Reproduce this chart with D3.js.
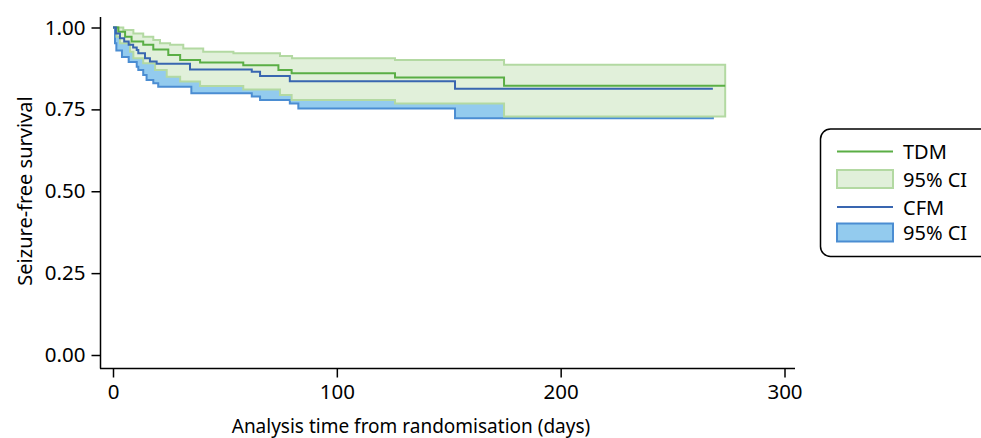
<!DOCTYPE html>
<html>
<head>
<meta charset="utf-8">
<script src="https://cdn.jsdelivr.net/npm/d3@7"></script>
<style>
  body { margin: 0; background: #fff; }
  text { font-family: "Noto Sans", "Open Sans", sans-serif; fill: #000; }
</style>
</head>
<body>
<svg id="chart" width="981" height="438"></svg>
<script>
// Kaplan-Meier estimates (time in days, survival)
var tdmTime = [0, 2.4, 5.4, 8.3, 13.5, 18, 24.7, 30, 38.9, 58.2, 73.9, 79.8, 126, 174.7, 273.5];
var tdmSurv = [1, 0.987, 0.972, 0.957, 0.947, 0.933, 0.916, 0.901, 0.893, 0.885, 0.870, 0.860, 0.847, 0.822, 0.822];

var tdmUpTime = [0, 4.6, 9.1, 13.5, 18, 21, 25.5, 31.4, 40.3, 53.8, 74.6, 80, 126, 174.7, 273.5];
var tdmUp = [1, 0.992, 0.982, 0.972, 0.962, 0.952, 0.947, 0.936, 0.926, 0.921, 0.913, 0.906, 0.901, 0.886, 0.886];

var tdmLoTime = [0, 1.6, 3.1, 7.6, 9.1, 13.5, 18.8, 24, 30, 38.9, 58.2, 74.6, 79.8, 126, 174.7, 273.5];
var tdmLo = [1, 0.972, 0.952, 0.926, 0.906, 0.891, 0.870, 0.850, 0.835, 0.821, 0.811, 0.794, 0.779, 0.768, 0.728, 0.728];

var cfmTime = [0, 1.3, 3.1, 5, 7, 9, 10.6, 11.3, 14.3, 16.5, 19.5, 34.4, 62, 65.7, 79, 152.8, 268];
var cfmSurv = [1, 0.982, 0.967, 0.957, 0.947, 0.939, 0.931, 0.921, 0.906, 0.896, 0.889, 0.872, 0.865, 0.852, 0.836, 0.813, 0.813];

var cfmUpTime = [0, 2, 5, 10, 15, 20, 35, 62, 79, 152.8, 268];
var cfmUp = [1, 0.99, 0.975, 0.955, 0.935, 0.92, 0.905, 0.9, 0.89, 0.87, 0.87];

var cfmLoTime = [0, 0.9, 1.5, 4, 7, 10.6, 11.3, 13.5, 15, 18, 20.2, 35, 62, 65.7, 79, 82.8, 152.8, 268];
var cfmLo = [1, 0.952, 0.93, 0.91, 0.895, 0.88, 0.870, 0.855, 0.840, 0.830, 0.819, 0.799, 0.789, 0.779, 0.768, 0.753, 0.723, 0.723];

var xTicks = [0, 100, 200, 300];
var yTicks = [0, 0.25, 0.5, 0.75, 1];
var legendLabels = ["TDM", "95% CI", "CFM", "95% CI"];

var svg = d3.select("#chart");

var x = d3.scaleLinear().domain([0, 300]).range([113, 784.5]);
var y = d3.scaleLinear().domain([0, 1]).range([355, 27.5]);

var green = { line: "#5aae45", fill: "#e1f0da", edge: "#b3d9a2" };
var blue = { line: "#3966b0", fill: "#93cbee", edge: "#4b8dd2" };

// value of a right-continuous step function at t
function stepAt(times, vals, t) {
  var v = vals[0];
  for (var i = 0; i < times.length; i++) {
    if (times[i] <= t) v = vals[i];
  }
  return v;
}

function bandData(upT, up, loT, lo) {
  var ts = Array.from(new Set(upT.concat(loT))).sort(d3.ascending);
  return ts.map(function(t) {
    return { t: t, hi: stepAt(upT, up, t), lo: stepAt(loT, lo, t) };
  });
}

function toPts(times, vals) {
  return times.map(function(t, i) { return { t: t, s: vals[i] }; });
}

var area = d3.area()
  .curve(d3.curveStepAfter)
  .x(function(d) { return x(d.t); })
  .y0(function(d) { return y(d.lo); })
  .y1(function(d) { return y(d.hi); });

var line = d3.line()
  .curve(d3.curveStepAfter)
  .x(function(d) { return x(d.t); })
  .y(function(d) { return y(d.s); });

// confidence bands: CFM first, TDM on top
svg.append("path")
  .attr("d", area(bandData(cfmUpTime, cfmUp, cfmLoTime, cfmLo)))
  .attr("fill", blue.fill)
  .attr("stroke", blue.edge)
  .attr("stroke-width", 2);

svg.append("path")
  .attr("d", area(bandData(tdmUpTime, tdmUp, tdmLoTime, tdmLo)))
  .attr("fill", green.fill)
  .attr("stroke", green.edge)
  .attr("stroke-width", 2);

svg.append("path")
  .attr("d", line(toPts(tdmTime, tdmSurv)))
  .attr("fill", "none")
  .attr("stroke", green.line)
  .attr("stroke-width", 2);

svg.append("path")
  .attr("d", line(toPts(cfmTime, cfmSurv)))
  .attr("fill", "none")
  .attr("stroke", blue.line)
  .attr("stroke-width", 2);

// axes
var yAxis = svg.append("g")
  .attr("transform", "translate(100.5,0)")
  .call(d3.axisLeft(y).tickValues(yTicks).tickSize(9).tickPadding(6)
    .tickFormat(d3.format(".2f")));
yAxis.select(".domain").attr("d", "M0,17V368.5");

var xAxis = svg.append("g")
  .attr("transform", "translate(0,368.5)")
  .call(d3.axisBottom(x).tickValues(xTicks).tickSize(9).tickPadding(7));
xAxis.select(".domain").attr("d", "M100,0H795");

svg.selectAll(".tick text")
  .style("font-size", "20.5px")
  .style("font-family", "'Noto Sans', sans-serif");
svg.selectAll(".domain, .tick line").attr("stroke", "#000").attr("stroke-width", 1.5);

svg.append("text")
  .attr("x", 411)
  .attr("y", 433)
  .attr("text-anchor", "middle")
  .style("font-size", "19px")
  .text("Analysis time from randomisation (days)");

svg.append("text")
  .attr("transform", "translate(32,191) rotate(-90)")
  .attr("text-anchor", "middle")
  .style("font-size", "20px")
  .text("Seizure-free survival");

// legend
var lg = svg.append("g");
lg.append("rect")
  .attr("x", 820.5).attr("y", 129)
  .attr("width", 200).attr("height", 127.5)
  .attr("rx", 10)
  .attr("fill", "#fff")
  .attr("stroke", "#000")
  .attr("stroke-width", 1.5);

var rowY = [151.5, 179, 207, 232.5];
var swatch = [
  { type: "line", c: green },
  { type: "rect", c: green },
  { type: "line", c: blue },
  { type: "rect", c: blue }
];
swatch.forEach(function(s, i) {
  if (s.type === "line") {
    lg.append("line")
      .attr("x1", 837).attr("x2", 893)
      .attr("y1", rowY[i]).attr("y2", rowY[i])
      .attr("stroke", s.c.line).attr("stroke-width", 2);
  } else {
    lg.append("rect")
      .attr("x", 837).attr("y", rowY[i] - 9)
      .attr("width", 56).attr("height", 18)
      .attr("fill", s.c.fill)
      .attr("stroke", s.c.edge).attr("stroke-width", 2);
  }
  lg.append("text")
    .attr("x", 903).attr("y", rowY[i] + 7.5)
    .style("font-size", "20px")
    .text(legendLabels[i]);
});
</script>
</body>
</html>
